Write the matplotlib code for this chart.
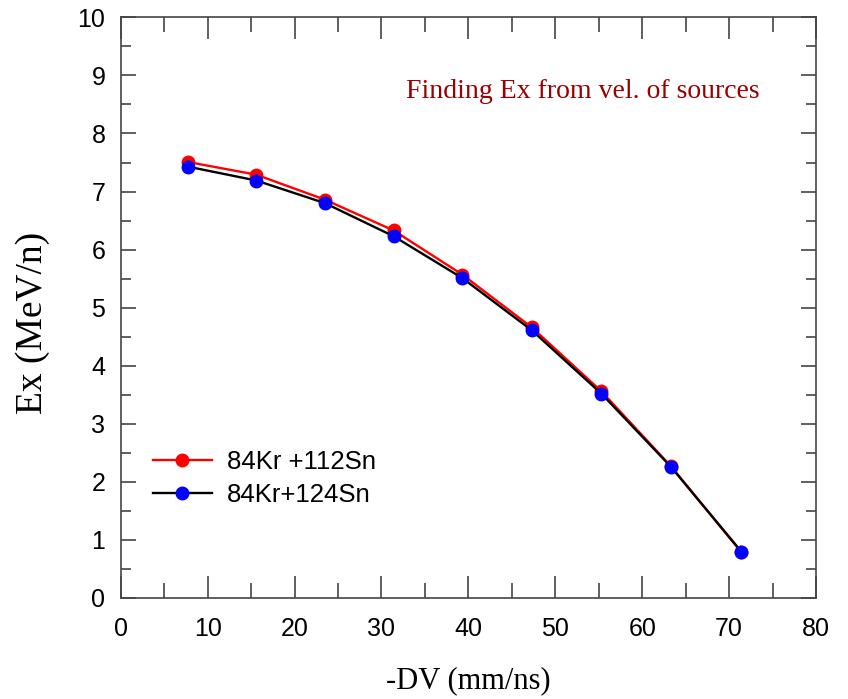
import matplotlib
matplotlib.use("Agg")
import matplotlib.pyplot as plt
from matplotlib.ticker import MultipleLocator

# data
dv = [7.7, 15.6, 23.5, 31.4, 39.3, 47.3, 55.3, 63.3, 71.4]
ex_kr112 = [7.51, 7.29, 6.86, 6.33, 5.57, 4.66, 3.56, 2.27, 0.79]
ex_kr124 = [7.43, 7.19, 6.80, 6.23, 5.51, 4.61, 3.52, 2.26, 0.80]

label_112 = "84Kr +112Sn"
label_124 = "84Kr+124Sn"

fig = plt.figure(figsize=(8.48, 6.99), dpi=100)
ax = fig.add_axes([0.1423, 0.1445, 0.8200, 0.8307])

ax.plot(dv, ex_kr112, color="red", lw=1.7, marker="o", ms=9,
        mfc="red", mec="red", label=label_112, zorder=3)
ax.plot(dv, ex_kr124, color="black", lw=1.7, marker="o", ms=9,
        mfc="blue", mec="blue", label=label_124, zorder=4)

ax.set_xlim(0, 80)
ax.set_ylim(0, 10)
ax.xaxis.set_major_locator(MultipleLocator(10))
ax.xaxis.set_minor_locator(MultipleLocator(5))
ax.yaxis.set_major_locator(MultipleLocator(1))
ax.yaxis.set_minor_locator(MultipleLocator(0.5))

for s in ax.spines.values():
    s.set_color("#444444")
    s.set_linewidth(1.2)

ax.tick_params(axis="both", which="both", direction="in", top=True, right=True,
               color="#444444", width=1.2, labelsize=18)
ax.tick_params(axis="x", which="major", length=15.5, pad=14)
ax.tick_params(axis="x", which="minor", length=10.5)
ax.tick_params(axis="y", which="major", length=10.5, pad=11)
ax.tick_params(axis="y", which="minor", length=7.5)
for t in ax.get_xticklabels() + ax.get_yticklabels():
    t.set_family("Liberation Sans")

ax.set_xlabel("-DV (mm/ns)", family="Liberation Serif", fontsize=22)
ax.set_ylabel("Ex (MeV/n)", family="Liberation Serif", fontsize=27)
ax.xaxis.set_label_coords(0.5, -0.118)
ax.yaxis.set_label_coords(-0.101, 0.474)

ax.text(32.8, 8.72, "Finding Ex from vel. of sources", color="#990000",
        family="Liberation Serif", fontsize=20, va="center", ha="left")

leg = ax.legend(loc="center left", bbox_to_anchor=(0.046, 0.206), frameon=False,
                prop={"family": "Liberation Sans", "size": 18.5},
                handlelength=2.3, handletextpad=0.6, labelspacing=0.35,
                borderpad=0, borderaxespad=0)

fig.savefig("out.png", dpi=100)
